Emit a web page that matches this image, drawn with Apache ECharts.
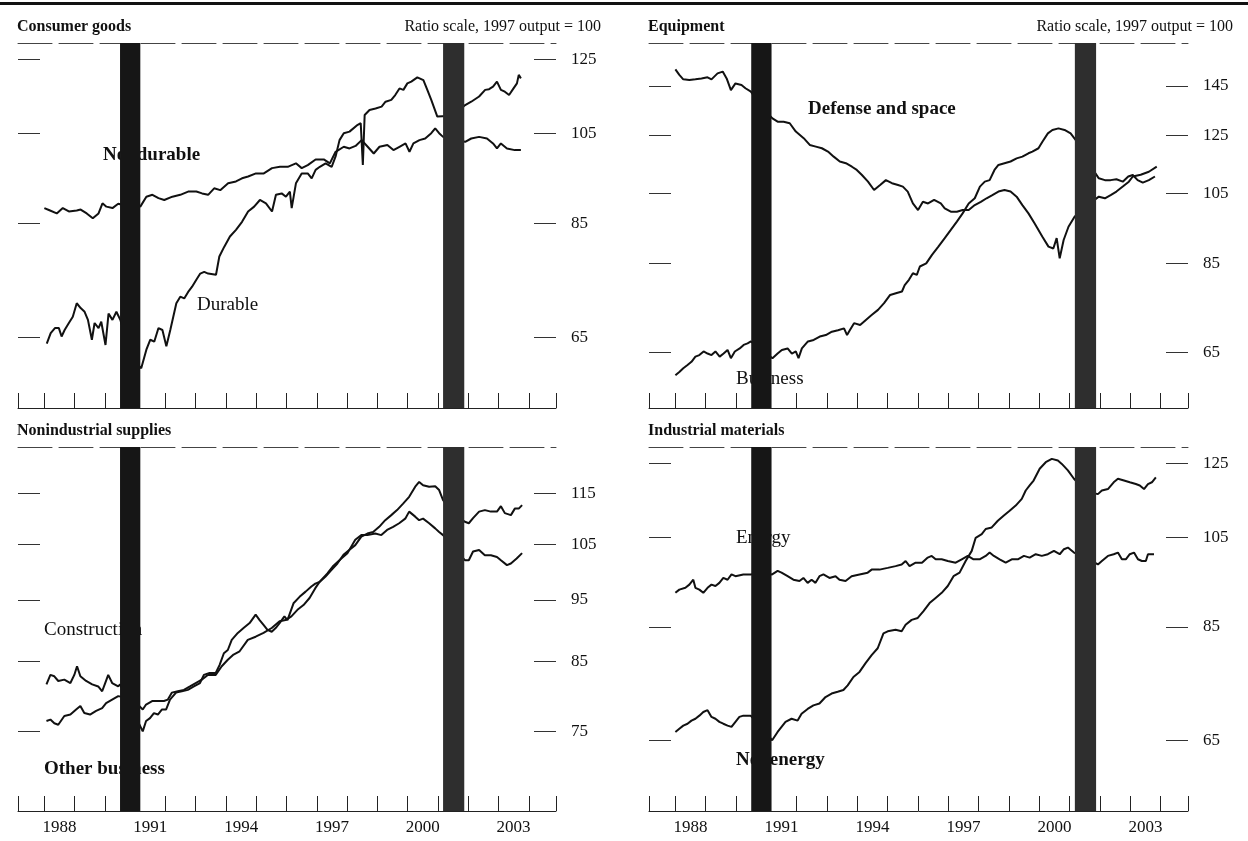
<!DOCTYPE html>
<html><head><meta charset="utf-8">
<script src="https://cdn.jsdelivr.net/npm/echarts@6/dist/echarts.min.js"></script>
<style>html,body{margin:0;padding:0;background:#fff}#c{width:1248px;height:841px}</style>
</head><body><div id="c"></div>
<script>
// ---------------- data (decimal year, index 1997 = 100) ----------------
const recessions = [[1990.5, 1991.17], [2001.17, 2001.87]];
const yearTicks = [1988,1989,1990,1991,1992,1993,1994,1995,1996,1997,1998,1999,2000,2001,2002,2003,2004];
const yearLabels = [1988, 1991, 1994, 1997, 2000, 2003];
const ticksConsumer = [65, 85, 105, 125];
const ticksEquipment = [65, 85, 105, 125, 145];
const ticksSupplies = [75, 85, 95, 105, 115];
const ticksMaterials = [65, 85, 105, 125];

const nondurable = [[1988.00,88.1],[1988.15,87.7],[1988.41,87.0],[1988.61,88.1],[1988.81,87.4],[1989.07,87.6],[1989.20,87.8],[1989.40,87.0],[1989.60,86.0],[1989.79,87.0],[1989.92,89.1],[1990.05,88.4],[1990.25,88.1],[1990.44,89.0],[1990.64,88.7],[1990.91,89.8],[1991.17,88.4],[1991.37,90.5],[1991.57,90.9],[1991.77,90.2],[1991.96,89.8],[1992.23,90.5],[1992.49,90.9],[1992.75,91.6],[1993.02,91.6],[1993.21,91.2],[1993.41,90.9],[1993.61,92.3],[1993.81,91.9],[1994.07,93.4],[1994.33,93.8],[1994.53,94.5],[1994.73,94.9],[1994.99,95.6],[1995.25,95.6],[1995.52,96.8],[1995.78,97.1],[1996.04,97.1],[1996.31,97.9],[1996.50,96.8],[1996.70,97.5],[1996.96,98.8],[1997.23,98.8],[1997.43,97.9],[1997.62,100.6],[1997.89,101.8],[1998.08,101.4],[1998.28,102.0],[1998.48,103.4],[1998.68,101.8],[1998.88,100.2],[1999.07,101.8],[1999.33,102.2],[1999.53,101.0],[1999.73,101.8],[1999.93,102.6],[2000.06,100.6],[2000.19,102.6],[2000.39,103.4],[2000.58,103.8],[2000.78,105.1],[2000.91,106.3],[2001.04,105.1],[2001.17,104.2],[2001.50,103.5],[2001.90,103.0],[2002.10,103.8],[2002.36,104.2],[2002.62,103.8],[2002.82,102.6],[2002.95,101.4],[2003.08,102.6],[2003.28,101.4],[2003.54,101.0],[2003.74,101.0]];

const durable = [[1988.08,64.0],[1988.21,65.6],[1988.35,66.4],[1988.48,66.4],[1988.57,65.1],[1988.67,66.1],[1988.81,67.2],[1988.94,68.2],[1989.07,70.4],[1989.20,69.6],[1989.33,69.0],[1989.44,67.7],[1989.57,64.6],[1989.66,67.2],[1989.79,66.4],[1989.88,67.4],[1990.02,63.8],[1990.12,68.7],[1990.25,67.7],[1990.38,69.0],[1990.51,67.7],[1990.85,62.0],[1991.20,60.4],[1991.37,63.1],[1991.50,64.6],[1991.63,64.3],[1991.77,66.4],[1991.90,66.1],[1992.03,63.6],[1992.16,66.1],[1992.36,70.4],[1992.49,71.5],[1992.62,71.2],[1992.75,72.3],[1992.88,73.2],[1993.02,74.4],[1993.15,75.5],[1993.28,75.8],[1993.41,75.5],[1993.67,75.3],[1993.78,78.6],[1993.94,80.4],[1994.13,82.4],[1994.33,83.7],[1994.53,85.3],[1994.73,87.4],[1994.93,88.4],[1995.12,89.8],[1995.32,89.1],[1995.52,87.4],[1995.65,90.9],[1995.84,91.2],[1995.98,90.5],[1996.11,91.6],[1996.17,88.1],[1996.31,93.4],[1996.50,95.6],[1996.70,95.6],[1996.83,94.5],[1996.96,96.4],[1997.10,97.1],[1997.29,97.9],[1997.49,97.1],[1997.62,99.5],[1997.75,103.4],[1997.89,105.1],[1998.08,105.5],[1998.35,107.2],[1998.45,107.6],[1998.52,97.5],[1998.58,109.7],[1998.74,111.0],[1998.94,111.4],[1999.14,111.9],[1999.27,113.2],[1999.46,113.7],[1999.59,115.0],[1999.73,116.8],[1999.86,116.4],[1999.99,118.2],[2000.12,118.7],[2000.32,119.9],[2000.52,119.1],[2000.65,116.4],[2000.78,113.7],[2000.98,109.3],[2001.04,108.9],[2001.50,109.5],[2001.90,112.3],[2002.10,113.2],[2002.36,114.6],[2002.56,116.4],[2002.69,116.6],[2002.82,117.3],[2002.95,118.7],[2003.08,116.4],[2003.21,115.9],[2003.35,115.0],[2003.48,116.6],[2003.61,118.2],[2003.67,120.6],[2003.74,119.6]];

const defenseSpace = [[1988.00,152.4],[1988.13,149.9],[1988.26,147.9],[1988.46,147.6],[1988.66,147.9],[1988.86,148.3],[1989.06,148.8],[1989.19,147.9],[1989.39,150.6],[1989.56,151.4],[1989.69,148.3],[1989.83,143.2],[1989.98,146.1],[1990.18,145.4],[1990.31,144.0],[1990.49,142.5],[1990.85,136.0],[1991.20,131.5],[1991.37,130.2],[1991.57,130.2],[1991.77,129.6],[1991.97,126.4],[1992.23,123.9],[1992.43,121.4],[1992.63,120.8],[1992.83,120.2],[1993.03,119.0],[1993.22,117.2],[1993.42,115.5],[1993.62,114.9],[1993.82,113.7],[1993.98,112.6],[1994.15,110.9],[1994.35,108.7],[1994.55,106.0],[1994.75,107.6],[1994.94,109.2],[1995.14,108.2],[1995.34,107.6],[1995.50,107.1],[1995.66,105.5],[1995.83,101.8],[1996.00,99.8],[1996.16,102.3],[1996.33,101.8],[1996.53,102.9],[1996.75,101.8],[1996.88,100.3],[1997.08,99.3],[1997.28,99.3],[1997.47,99.8],[1997.67,99.8],[1997.87,101.3],[1998.07,102.3],[1998.26,103.4],[1998.45,104.4],[1998.65,105.5],[1998.85,106.0],[1999.05,105.5],[1999.25,103.9],[1999.44,101.3],[1999.64,98.8],[1999.84,95.9],[2000.10,92.1],[2000.30,89.4],[2000.46,88.9],[2000.57,91.7],[2000.67,86.3],[2000.80,91.2],[2000.96,94.9],[2001.16,97.8],[2001.55,101.0],[2001.96,103.9],[2002.16,103.4],[2002.35,104.4],[2002.54,105.5],[2002.75,107.1],[2002.95,108.7],[2003.08,110.4],[2003.34,111.0],[2003.61,112.0],[2003.87,113.7]];

const business = [[1988.00,60.7],[1988.13,61.3],[1988.26,62.0],[1988.40,62.6],[1988.53,63.2],[1988.66,64.2],[1988.79,64.5],[1988.93,65.2],[1989.06,64.8],[1989.19,64.5],[1989.32,65.2],[1989.46,64.2],[1989.59,64.8],[1989.72,65.5],[1989.83,63.9],[1989.96,65.2],[1990.12,65.8],[1990.25,66.5],[1990.38,66.8],[1990.49,67.2],[1990.85,65.5],[1991.20,63.9],[1991.37,64.8],[1991.51,65.5],[1991.70,65.8],[1991.84,64.8],[1991.97,65.2],[1992.06,63.9],[1992.17,65.8],[1992.37,67.2],[1992.56,67.5],[1992.76,68.2],[1992.96,68.5],[1993.16,69.2],[1993.36,69.5],[1993.56,69.9],[1993.66,68.5],[1993.75,69.5],[1993.89,71.0],[1994.09,70.6],[1994.28,71.7],[1994.48,72.8],[1994.68,73.9],[1994.88,75.4],[1995.08,77.3],[1995.27,77.7],[1995.47,78.1],[1995.56,79.6],[1995.70,80.9],[1995.83,82.5],[1995.96,82.1],[1996.06,84.2],[1996.27,85.0],[1996.46,87.2],[1996.67,89.4],[1996.88,91.7],[1997.08,94.0],[1997.28,96.4],[1997.47,98.8],[1997.67,101.8],[1997.87,103.4],[1998.04,107.1],[1998.20,108.7],[1998.36,109.2],[1998.52,112.6],[1998.65,114.3],[1998.85,114.9],[1999.05,115.5],[1999.25,116.6],[1999.44,117.2],[1999.64,118.4],[1999.77,119.0],[1999.97,120.2],[2000.10,122.6],[2000.28,125.7],[2000.43,127.0],[2000.63,127.6],[2000.83,127.0],[2001.03,125.7],[2001.20,123.2],[2001.55,116.0],[2001.96,109.8],[2002.16,109.2],[2002.35,109.2],[2002.54,109.5],[2002.75,108.7],[2002.93,110.4],[2003.08,110.9],[2003.24,109.2],[2003.41,108.4],[2003.61,109.2],[2003.81,110.4]];

const construction = [[1988.07,81.6],[1988.20,83.0],[1988.33,82.8],[1988.46,82.1],[1988.66,82.3],[1988.86,81.8],[1988.99,83.0],[1989.08,84.3],[1989.19,82.8],[1989.38,82.1],[1989.58,81.6],[1989.78,81.3],[1989.91,80.6],[1990.01,81.8],[1990.11,83.0],[1990.24,81.8],[1990.44,81.3],[1990.50,81.6],[1990.90,78.0],[1991.25,75.0],[1991.36,76.4],[1991.49,76.8],[1991.62,77.5],[1991.75,77.3],[1991.88,78.0],[1992.02,78.0],[1992.15,79.4],[1992.35,80.4],[1992.54,80.6],[1992.74,80.8],[1992.94,81.3],[1993.14,81.8],[1993.27,83.0],[1993.46,83.3],[1993.66,83.3],[1993.79,84.5],[1993.93,86.3],[1994.06,86.8],[1994.19,88.4],[1994.39,89.5],[1994.58,90.3],[1994.78,91.1],[1994.98,92.5],[1995.11,91.6],[1995.24,90.8],[1995.37,90.0],[1995.51,89.7],[1995.64,90.3],[1995.77,91.1],[1995.93,92.2],[1996.03,91.6],[1996.23,94.4],[1996.43,95.5],[1996.63,96.4],[1996.82,97.3],[1996.95,97.8],[1997.09,98.1],[1997.28,99.0],[1997.48,100.2],[1997.68,101.4],[1997.88,103.0],[1998.07,103.9],[1998.27,104.8],[1998.47,106.4],[1998.67,107.0],[1998.86,107.3],[1999.06,108.3],[1999.26,109.6],[1999.46,110.6],[1999.65,111.6],[1999.85,112.9],[2000.05,114.3],[2000.25,116.4],[2000.38,117.4],[2000.51,116.7],[2000.71,116.4],[2000.91,116.5],[2001.04,115.7],[2001.17,113.6],[2001.50,111.0],[2001.89,109.3],[2002.02,109.0],[2002.16,110.0],[2002.36,111.3],[2002.55,111.6],[2002.75,111.3],[2002.95,111.3],[2003.08,112.4],[2003.21,111.0],[2003.41,110.6],[2003.54,111.9],[2003.67,111.9],[2003.78,112.6]];

const otherBusiness = [[1988.07,76.4],[1988.20,76.6],[1988.33,76.1],[1988.46,75.9],[1988.66,77.1],[1988.86,77.3],[1989.05,78.0],[1989.19,78.5],[1989.32,77.5],[1989.51,77.3],[1989.71,77.8],[1989.91,78.2],[1990.04,78.9],[1990.24,79.4],[1990.44,79.9],[1990.50,80.1],[1990.90,79.5],[1991.25,78.0],[1991.36,78.7],[1991.56,79.2],[1991.75,79.2],[1991.95,79.2],[1992.08,79.4],[1992.21,80.4],[1992.41,80.6],[1992.61,80.8],[1992.81,81.3],[1993.00,81.8],[1993.20,82.3],[1993.40,83.0],[1993.66,83.0],[1993.86,84.3],[1994.06,85.3],[1994.25,86.1],[1994.45,86.6],[1994.72,88.4],[1994.98,88.9],[1995.24,89.5],[1995.51,90.3],[1995.77,91.4],[1995.97,91.6],[1996.16,92.2],[1996.36,93.3],[1996.56,94.1],[1996.76,95.3],[1996.95,97.0],[1997.09,98.1],[1997.35,99.6],[1997.55,101.0],[1997.81,102.3],[1998.01,103.3],[1998.27,105.8],[1998.47,106.7],[1998.67,106.7],[1998.93,107.0],[1999.13,106.7],[1999.32,107.7],[1999.52,108.3],[1999.72,109.0],[1999.92,109.9],[2000.05,111.3],[2000.25,110.3],[2000.38,109.6],[2000.51,109.9],[2000.71,109.0],[2000.91,108.0],[2001.04,107.3],[2001.17,106.7],[2001.50,104.5],[2001.89,102.0],[2002.02,102.0],[2002.16,103.6],[2002.36,103.9],[2002.55,102.9],[2002.75,102.9],[2002.95,102.6],[2003.08,102.0],[2003.28,101.1],[2003.41,101.4],[2003.60,102.3],[2003.78,103.3]];

const energy = [[1988.00,92.1],[1988.13,92.8],[1988.33,93.2],[1988.46,93.9],[1988.59,95.0],[1988.66,93.2],[1988.79,92.8],[1988.92,92.1],[1989.06,93.2],[1989.19,93.9],[1989.32,93.6],[1989.45,94.3],[1989.58,95.4],[1989.72,95.0],[1989.85,96.2],[1989.98,95.8],[1990.24,96.2],[1990.48,96.2],[1990.85,96.5],[1991.19,96.2],[1991.37,97.0],[1991.50,96.6],[1991.70,95.8],[1991.89,95.0],[1992.09,94.7],[1992.22,95.4],[1992.36,94.3],[1992.49,95.0],[1992.62,94.3],[1992.75,95.8],[1992.88,96.2],[1993.08,95.4],[1993.28,95.8],[1993.41,95.0],[1993.61,94.7],[1993.81,95.8],[1994.07,96.2],[1994.34,96.6],[1994.47,97.3],[1994.73,97.3],[1995.00,97.7],[1995.26,98.1],[1995.46,98.5],[1995.59,99.3],[1995.72,98.1],[1995.92,98.9],[1996.13,98.9],[1996.32,100.1],[1996.45,100.5],[1996.58,99.7],[1996.78,99.7],[1996.98,99.3],[1997.24,98.9],[1997.44,99.7],[1997.64,100.5],[1997.83,99.7],[1998.03,99.7],[1998.23,100.5],[1998.36,101.3],[1998.50,100.5],[1998.69,99.7],[1998.89,98.9],[1999.09,99.7],[1999.29,99.7],[1999.49,100.5],[1999.68,100.1],[1999.88,100.9],[2000.08,100.5],[2000.28,100.9],[2000.48,101.7],[2000.67,100.9],[2000.81,102.1],[2000.94,102.5],[2001.14,101.3],[2001.55,100.0],[2001.93,98.5],[2002.06,99.3],[2002.26,100.5],[2002.45,100.9],[2002.59,101.3],[2002.72,99.7],[2002.85,99.7],[2002.98,100.9],[2003.12,101.3],[2003.25,99.7],[2003.38,99.3],[2003.51,99.3],[2003.58,100.9],[2003.78,100.9]];

const nonenergy = [[1988.00,66.3],[1988.13,66.8],[1988.26,67.3],[1988.40,67.6],[1988.53,68.1],[1988.66,68.4],[1988.79,68.9],[1988.92,69.5],[1989.06,69.8],[1989.19,68.7],[1989.32,68.4],[1989.45,67.9],[1989.58,67.6],[1989.72,67.3],[1989.85,67.1],[1989.98,67.9],[1990.11,68.7],[1990.24,68.9],[1990.48,68.9],[1990.85,67.0],[1991.19,65.0],[1991.37,66.3],[1991.50,67.1],[1991.63,67.9],[1991.83,68.4],[1992.03,68.1],[1992.16,69.2],[1992.36,70.0],[1992.55,70.6],[1992.75,70.9],[1992.95,72.0],[1993.15,72.6],[1993.35,72.9],[1993.54,73.2],[1993.68,74.0],[1993.87,75.5],[1994.07,76.4],[1994.27,78.0],[1994.47,79.5],[1994.67,80.8],[1994.86,83.7],[1995.00,84.1],[1995.26,84.4],[1995.46,84.1],[1995.59,85.4],[1995.79,86.4],[1995.99,86.8],[1996.18,88.2],[1996.38,89.9],[1996.58,91.0],[1996.78,92.1],[1996.98,93.6],[1997.17,95.8],[1997.37,96.6],[1997.57,99.3],[1997.77,101.7],[1997.90,104.9],[1998.10,105.8],[1998.23,107.1],[1998.43,107.5],[1998.63,109.2],[1998.82,110.5],[1999.02,111.8],[1999.22,113.2],[1999.42,115.0],[1999.55,117.3],[1999.68,118.7],[1999.81,120.1],[2000.01,123.5],[2000.21,125.4],[2000.41,126.4],[2000.61,125.9],[2000.74,124.9],[2000.94,123.0],[2001.14,120.6],[2001.55,117.0],[2001.93,116.3],[2002.06,117.3],[2002.26,117.7],[2002.45,119.6],[2002.59,120.6],[2002.79,120.1],[2002.98,119.6],[2003.18,119.1],[2003.31,118.7],[2003.45,117.7],[2003.58,119.1],[2003.71,119.6],[2003.84,121.0]];

// ---------------- layout / styles ----------------
const SERIF = '"Liberation Serif","DejaVu Serif",serif';
const INK = '#111';
const X_MIN = 1987.13, X_MAX = 2004.9;

const panels = [
  {title:'Consumer goods', header:true, grid:{left:18, top:43, width:538, height:365}, yMin:55, yMax:130, yTicks:ticksConsumer, years:false, series:[nondurable, durable]},
  {title:'Equipment', header:true, grid:{left:649, top:43, width:539, height:365}, yMin:55, yMax:165, yTicks:ticksEquipment, years:false, series:[defenseSpace, business]},
  {title:'Nonindustrial supplies', header:false, grid:{left:18, top:447, width:538, height:364}, yMin:65, yMax:125, yTicks:ticksSupplies, years:true, series:[construction, otherBusiness]},
  {title:'Industrial materials', header:false, grid:{left:649, top:447, width:539, height:364}, yMin:55, yMax:130, yTicks:ticksMaterials, years:true, series:[energy, nonenergy]}
];

const notes = [
  {text:'Nondurable', x:103, y:155, bold:true},
  {text:'Durable', x:197, y:305, bold:false},
  {text:'Defense and space', x:808, y:109, bold:true},
  {text:'Business', x:736, y:379, bold:false},
  {text:'Construction', x:44, y:630, bold:false},
  {text:'Other business', x:44, y:769, bold:true},
  {text:'Energy', x:736, y:538, bold:false},
  {text:'Nonenergy', x:736, y:760, bold:true}
];

const grids = [], xAxes = [], yAxes = [], series = [];
const graphics = [
  {type:'rect', shape:{x:0, y:2, width:1248, height:3}, style:{fill:INK}, z:1}
];

panels.forEach((p, i) => {
  grids.push(Object.assign({containLabel:false}, p.grid));
  const tickVals = [X_MIN].concat(yearTicks, [X_MAX]);
  xAxes.push({
    gridIndex:i, type:'value', position:'bottom', min:X_MIN, max:X_MAX,
    axisLine:{show:true, onZero:false, lineStyle:{color:'#222', width:1}},
    axisTick:{show:true, inside:true, length:15, customValues:tickVals, lineStyle:{color:'#222', width:1}},
    axisLabel:{show:p.years, customValues:yearLabels.map(y => y + 0.5), formatter:v => String(Math.floor(v)),
      fontFamily:SERIF, fontSize:17, color:INK, margin:8},
    splitLine:{show:false}
  });
  xAxes.push({
    gridIndex:i, type:'value', position:'top', min:X_MIN, max:X_MAX,
    axisLine:{show:true, onZero:false, lineStyle:{color:'#444', width:1, type:[34, 7]}},
    axisTick:{show:false}, axisLabel:{show:false}, splitLine:{show:false}
  });
  const yBase = {gridIndex:i, type:'log', logBase:10, min:p.yMin, max:p.yMax,
    axisLine:{show:false}, splitLine:{show:false}};
  yAxes.push(Object.assign({}, yBase, {position:'left',
    axisTick:{show:true, inside:true, length:22, customValues:p.yTicks, lineStyle:{color:'#333', width:1}},
    axisLabel:{show:false}}));
  yAxes.push(Object.assign({}, yBase, {position:'right',
    axisTick:{show:true, inside:true, length:22, customValues:p.yTicks, lineStyle:{color:'#333', width:1}},
    axisLabel:{show:true, customValues:p.yTicks, fontFamily:SERIF, fontSize:17, color:INK, margin:15}}));

  p.series.forEach(d => {
    series.push({type:'line', xAxisIndex:2*i, yAxisIndex:2*i, data:d, showSymbol:false, symbol:'none',
      lineStyle:{color:INK, width:2}, z:2, silent:true, animation:false});
  });
  series.push({
    type:'custom', xAxisIndex:2*i, yAxisIndex:2*i, data:recessions, z:10, silent:true, animation:false,
    encode:{x:[0,1]}, clip:false,
    renderItem:(params, api) => {
      const cs = params.coordSys;
      const yRef = p.yMin * 1.2;
      const x0 = api.coord([api.value(0), yRef])[0];
      const x1 = api.coord([api.value(1), yRef])[0];
      return {type:'rect', shape:{x:x0, y:cs.y, width:x1 - x0, height:cs.height},
        style:{fill: params.dataIndex === 0 ? '#161616' : '#2e2e2e'}};
    }
  });

  graphics.push({type:'text', x:p.grid.left - 1, y:p.grid.top - 16, z:1,
    style:{text:p.title, fontFamily:SERIF, fontSize:16, fontWeight:'bold', fill:INK, align:'left', verticalAlign:'middle'}});
  if (p.header) {
    graphics.push({type:'text', x:p.grid.left + p.grid.width + 45, y:p.grid.top - 16, z:1,
      style:{text:'Ratio scale, 1997 output = 100', fontFamily:SERIF, fontSize:16, fill:INK, align:'right', verticalAlign:'middle'}});
  }
});

notes.forEach(n => {
  graphics.push({type:'text', x:n.x, y:n.y, z:1,
    style:{text:n.text, fontFamily:SERIF, fontSize:19, fontWeight:n.bold ? 'bold' : 'normal', fill:INK, align:'left', verticalAlign:'middle'}});
});

const chart = echarts.init(document.getElementById('c'), null, {renderer:'canvas'});
chart.setOption({
  animation:false,
  backgroundColor:'#fff',
  grid:grids, xAxis:xAxes, yAxis:yAxes, series:series, graphic:graphics
});
</script>
</body></html>
